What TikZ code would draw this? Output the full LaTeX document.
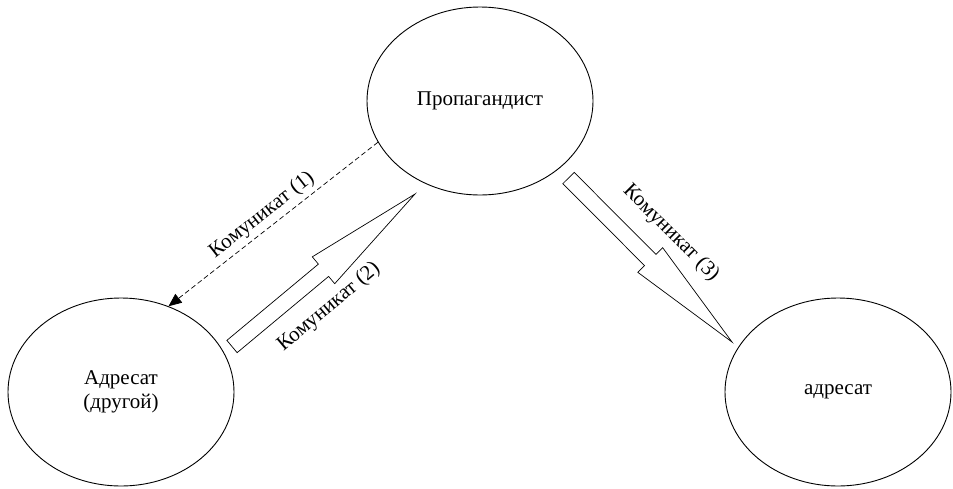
\documentclass[tikz,border=0pt]{standalone}
\usepackage{fontspec}
\setmainfont{Liberation Serif}
\usetikzlibrary{shapes.geometric,arrows.meta,calc}
\tikzset{
  actor/.style={ellipse, draw, line width=0.9pt, minimum width=226pt, minimum height=188pt, inner sep=0pt, align=center, font=\fontsize{21}{24}\selectfont},
  lbl/.style={inner sep=0pt, font=\fontsize{21}{24}\selectfont},
  blockarrow/.style={draw, line width=0.7pt, line join=miter},
  msgline/.style={line width=0.7pt, dash pattern=on 5pt off 3pt, -{Triangle[length=13pt,width=11pt]}}
}
\newcommand{\myblockarrow}[2]{%
  \draw[blockarrow]
    ($(#1)!8pt!90:(#2)$) --
    ($($(#1)!0.5!(#2)$)!8pt!90:(#2)$) --
    ($($(#1)!0.5!(#2)$)!17.5pt!90:(#2)$) --
    (#2) --
    ($($(#1)!0.5!(#2)$)!17.5pt!-90:(#2)$) --
    ($($(#1)!0.5!(#2)$)!8pt!-90:(#2)$) --
    ($(#1)!8pt!-90:(#2)$) -- cycle;}
\begin{document}
\begin{tikzpicture}[x=1pt,y=1pt]
\useasboundingbox (0,0) rectangle (953,-488);
\node[actor] (P) at (480,-101) {Пропагандист};
\node[actor] (A) at (121,-392) {Адресат\\(другой)};
\node[actor] (B) at (838,-392) {адресат};
% dashed message (1)
\draw[msgline] (P.202) -- (A.61);
\node[lbl, rotate=38] (l1) at (262,-215) {Комуникат (1)};
% block arrow (2)
\coordinate (t2) at (232,-346.5);
\coordinate (h2) at (415,-194);
\myblockarrow{t2}{h2}
\node[lbl, rotate=40] (l2) at (329,-307) {Комуникат (2)};
% block arrow (3)
\coordinate (t3) at (568.5,-178);
\coordinate (h3) at (732,-342);
\myblockarrow{t3}{h3}
\node[lbl, rotate=-45] (l3) at (671,-233) {Комуникат (3)};
\end{tikzpicture}
\end{document}
